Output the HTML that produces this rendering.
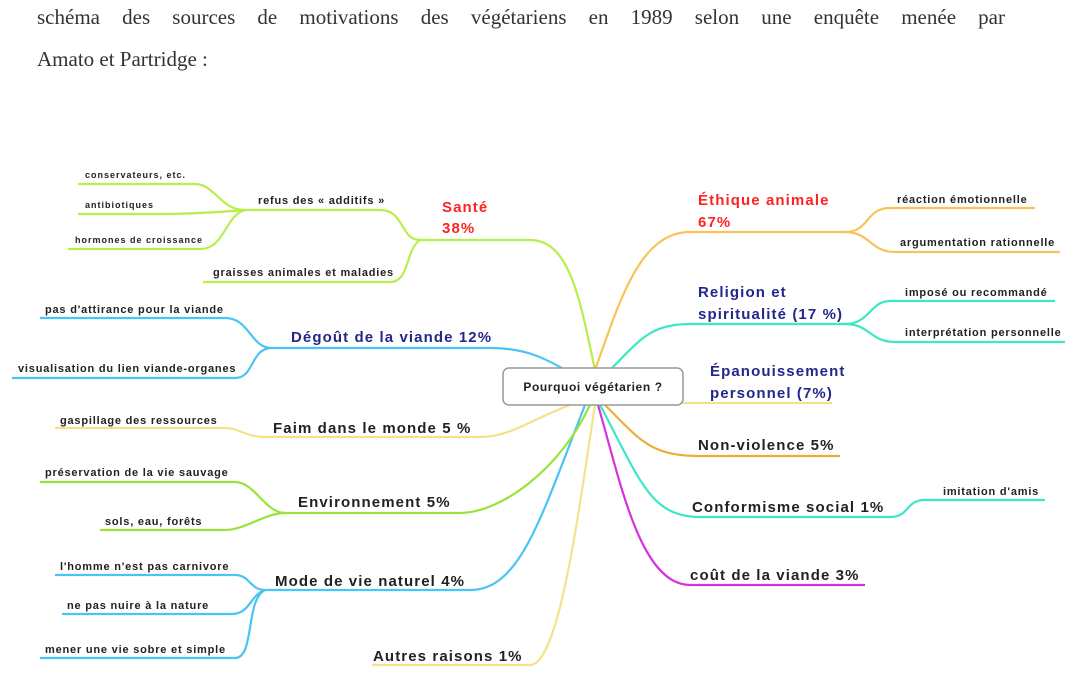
<!DOCTYPE html>
<html><head><meta charset="utf-8"><style>
body{margin:0;background:#fff;width:1075px;height:686px;overflow:hidden;position:relative}
.p{position:absolute;left:37px;width:968px;font-family:"Liberation Serif",serif;font-size:21px;color:#333;line-height:42px;text-align:justify;text-align-last:justify;top:-4px}
svg{position:absolute;left:0;top:0}
text{font-family:"Liberation Sans",sans-serif;font-weight:bold}
.s{font-size:11px;fill:#222;letter-spacing:0.8px}
.t{font-size:9px;fill:#222;letter-spacing:1px}
.m{font-size:15px;fill:#222;letter-spacing:1.1px}
.r{font-size:15px;fill:#f22;letter-spacing:1.1px}
.b{font-size:15px;fill:#22288a;letter-spacing:1.1px}
</style></head><body>
<div class="p">schéma des sources de motivations des végétariens en 1989 selon une enquête menée par</div>
<div class="p" style="top:38px;text-align-last:left">Amato et Partridge :</div>
<svg width="1075" height="686" fill="none" stroke-width="2.2">
<g stroke="#b7ef4a">
<path d="M595 370 C580 300 570 240 530 240 L420 240"/>
<path d="M420 240 C400 240 405 210 380 210 L245 210"/>
<path d="M245 210 C220 210 215 184 195 184 L78 184"/>
<path d="M245 210 C220 212 190 214 160 214 L78 214"/>
<path d="M245 210 C225 215 225 249 200 249 L68 249"/>
<path d="M420 240 C405 250 410 282 390 282 L203 282"/>
</g>
<g stroke="#4ac4f5">
<path d="M565 370 C540 355 520 348 490 348 L272 348"/>
<path d="M272 348 C250 348 250 318 225 318 L40 318"/>
<path d="M272 348 C250 348 255 378 235 378 L12 378"/>
<path d="M585 405 C540 520 520 590 470 590 L265 590"/>
<path d="M265 590 C250 590 250 575 235 575 L55 575"/>
<path d="M265 590 C250 595 250 614 232 614 L62 614"/>
<path d="M265 590 C245 600 255 658 235 658 L40 658"/>
</g>
<g stroke="#f7e08a">
<path d="M570 405 C530 420 510 437 480 437 L265 437"/>
<path d="M265 437 C245 437 240 428 225 428 L55 428"/>
<path d="M595 405 C580 500 560 665 530 665 L372 665"/>
<path d="M600 402 L683 403 L832 403"/>
</g>
<g stroke="#9be23a">
<path d="M590 405 C560 470 500 513 460 513 L285 513"/>
<path d="M285 513 C265 513 255 482 235 482 L40 482"/>
<path d="M285 513 C265 513 245 530 225 530 L100 530"/>
</g>
<g stroke="#f8c45a">
<path d="M595 370 C620 300 640 232 690 232 L845 232"/>
<path d="M845 232 C870 232 865 208 890 208 L1035 208"/>
<path d="M845 232 C870 232 870 252 895 252 L1060 252"/>
</g>
<path stroke="#e9ae3a" d="M605 405 C640 440 650 456 700 456 L840 456"/>
<g stroke="#3ce6c6">
<path d="M610 370 C640 340 650 324 690 324 L845 324"/>
<path d="M845 324 C870 324 870 301 890 301 L1055 301"/>
<path d="M845 324 C870 324 870 342 895 342 L1065 342"/>
<path d="M600 405 C640 480 650 517 700 517 L890 517"/>
<path d="M890 517 C910 517 905 500 925 500 L1045 500"/>
</g>
<path stroke="#d832e0" d="M598 405 C620 480 640 585 690 585 L865 585"/>
<rect x="503" y="368" width="180" height="37" rx="6" fill="#fff" stroke="#999" stroke-width="1.5"/>
<text x="593" y="391" text-anchor="middle" style="font-size:12px;fill:#222;letter-spacing:0.6px">Pourquoi végétarien ?</text>
<text class="r" x="442" y="212">Santé</text>
<text class="r" x="442" y="233">38%</text>
<text class="r" x="698" y="205">Éthique animale</text>
<text class="r" x="698" y="227">67%</text>
<text class="b" x="698" y="297">Religion et</text>
<text class="b" x="698" y="319">spiritualité (17 %)</text>
<text class="b" x="710" y="376">Épanouissement</text>
<text class="b" x="710" y="398">personnel (7%)</text>
<text class="b" x="291" y="342">Dégoût de la viande 12%</text>
<text class="m" x="273" y="433">Faim dans le monde 5 %</text>
<text class="m" x="298" y="507">Environnement 5%</text>
<text class="m" x="275" y="586">Mode de vie naturel 4%</text>
<text class="m" x="373" y="661">Autres raisons 1%</text>
<text class="m" x="698" y="450">Non-violence 5%</text>
<text class="m" x="692" y="512">Conformisme social 1%</text>
<text class="m" x="690" y="580">coût de la viande 3%</text>
<text class="t" x="85" y="178">conservateurs, etc.</text>
<text class="t" x="85" y="208">antibiotiques</text>
<text class="t" x="75" y="243">hormones de croissance</text>
<text class="s" x="258" y="204">refus des « additifs »</text>
<text class="s" x="213" y="276">graisses animales et maladies</text>
<text class="s" x="45" y="313">pas d'attirance pour la viande</text>
<text class="s" x="18" y="372">visualisation du lien viande-organes</text>
<text class="s" x="60" y="424">gaspillage des ressources</text>
<text class="s" x="45" y="476">préservation de la vie sauvage</text>
<text class="s" x="105" y="525">sols, eau, forêts</text>
<text class="s" x="60" y="570">l'homme n'est pas carnivore</text>
<text class="s" x="67" y="609">ne pas nuire à la nature</text>
<text class="s" x="45" y="653">mener une vie sobre et simple</text>
<text class="s" x="897" y="203">réaction émotionnelle</text>
<text class="s" x="900" y="246">argumentation rationnelle</text>
<text class="s" x="905" y="296">imposé ou recommandé</text>
<text class="s" x="905" y="336">interprétation personnelle</text>
<text class="s" x="943" y="495">imitation d'amis</text>
</svg>
</body></html>
